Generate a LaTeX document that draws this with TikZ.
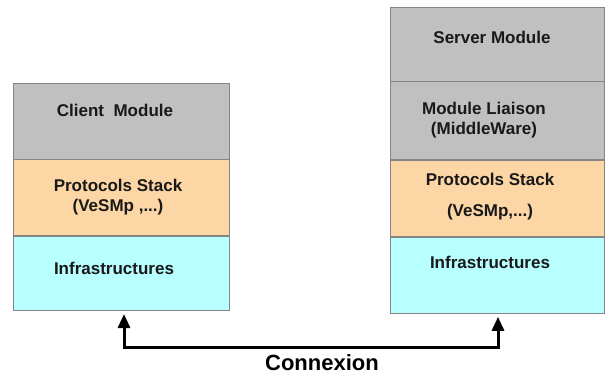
\documentclass[tikz,border=0pt]{standalone}
\usepackage{fontspec}
\setmainfont{Liberation Sans}
\usetikzlibrary{positioning,arrows.meta}
\definecolor{lyGray}{HTML}{C0C0C0}
\definecolor{lyProto}{HTML}{FCD6A4}
\definecolor{lyInfra}{HTML}{B8FFFF}
\definecolor{lyEdge}{HTML}{858585}

\begin{document}
\begin{tikzpicture}[x=1pt, y=-1pt,
      font=\fontsize{17}{20}\selectfont\bfseries,
      layer/.style={draw=lyEdge, line width=0.8pt, minimum width=216pt, inner sep=0pt},
      mod/.style={layer, fill=lyGray},
      proto/.style={layer, fill=lyProto},
      infra/.style={layer, fill=lyInfra},
      txt/.style={align=center, text=black!90, inner sep=0pt},
      link/.style={{Triangle[width=12pt,length=14pt]}-{Triangle[width=12pt,length=14pt]},
                   line width=3pt, shorten <=3pt, shorten >=3pt}
    ]
    \useasboundingbox (0,0) rectangle (605,376);
    % ------------- client side -------------
    \node[mod, minimum height=76pt] (cmod) at (121,121) {};
    \node[proto, minimum height=76pt, below=0pt of cmod] (cproto) {};
    \node[infra, minimum height=74pt, below=0pt of cproto] (cinfra) {};
    \node[txt] (cmodT) at (115,110) {Client~~Module};
    \node[txt] (cprotoT) at (118,197) {Protocols Stack\\(VeSMp ,...)};
    \node[txt] (cinfraT) at (114,268) {Infrastructures};
    % ------------- server side -------------
    \node[mod, minimum width=214pt, minimum height=74pt] (smod) at (497,44) {};
    \node[mod, minimum width=214pt, minimum height=78pt, below=0pt of smod] (slia) {};
    \node[proto, minimum width=214pt, minimum height=76pt, below=0pt of slia] (sproto) {};
    \node[infra, minimum width=214pt, minimum height=76pt, below=0pt of sproto] (sinfra) {};
    \node[txt] (smodT) at (492,37) {Server Module};
    \node[txt] (sliaT) at (484,120) {Module Liaison\\(MiddleWare)};
    \node[txt] (sprotoT) at (490,197) {Protocols Stack\\[11pt](VeSMp,...)};
    \node[txt] (sinfraT) at (490,262) {Infrastructures};
    % ------------- link between both -------------
    \coordinate (cfoot) at (124,347);
    \coordinate (sfoot) at (498,347);
    \draw[link] (cinfra.south -| cfoot) -- (cfoot) -- (sfoot) -- (sinfra.south -| sfoot);
    \node[font=\fontsize{22}{26}\selectfont\bfseries] (cnx) at (322,363) {Connexion};
  \end{tikzpicture}
\end{document}
